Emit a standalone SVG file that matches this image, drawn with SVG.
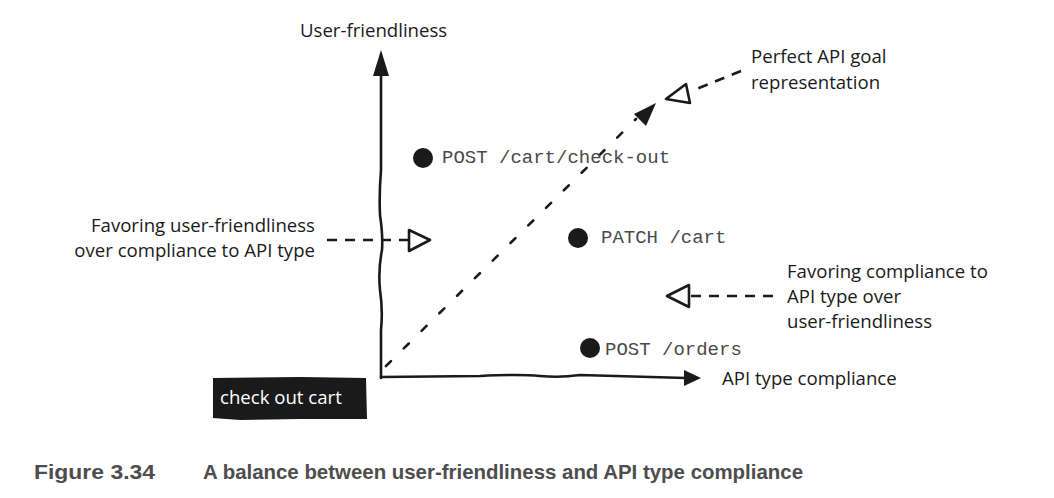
<svg xmlns="http://www.w3.org/2000/svg" width="1054" height="498" viewBox="0 0 1054 498">
<style>
.hand{font-family:"Open Sans","DejaVu Sans",sans-serif;font-size:18.6px;fill:#1a1a1a}
.mono{font-family:"Liberation Mono","DejaVu Sans Mono",monospace;font-size:19px;fill:#4a4a4a}
.cap{font-family:"Liberation Sans",Arial,sans-serif;font-size:21px;font-weight:bold;fill:#4d4d4d}
.ln{fill:none;stroke:#1a1a1a;stroke-width:2.6;stroke-linecap:round;stroke-linejoin:round}
.dash{fill:none;stroke:#1a1a1a;stroke-width:2.6;stroke-dasharray:10 8}
.dot{fill:none;stroke:#1a1a1a;stroke-width:2.6;stroke-dasharray:7 18;stroke-linecap:round}
.hollow{fill:#fff;stroke:#1a1a1a;stroke-width:2.6;stroke-linejoin:round}
.solid{fill:#1a1a1a}
</style>
<rect width="1054" height="498" fill="#fff"/>
<g id="connectors">
  <!-- Y axis -->
  <path class="ln" d="M381,378 L381,330 Q383,310 380,290 Q378,270 382,250 Q383,235 380,215 Q379,195 381,170 L381,72"/>
  <polygon class="solid" points="381,50 373,76 389,76"/>
  <!-- X axis -->
  <path class="ln" d="M381,377 L480,376 Q520,374 540,376 Q560,378 580,375 L686,378"/>
  <polygon class="solid" points="701,378 684,370 684,386"/>
  <!-- diagonal -->
  <path class="dot" d="M386,366 L636,119"/>
  <polygon class="solid" points="656,103 634,114 646,126"/>
  <!-- perfect goal pointer -->
  <path class="dash" d="M741,71 L694,90"/>
  <polygon class="hollow" points="666,99 686,84 690,103"/>
  <!-- left pointer -->
  <path class="dash" d="M327,240 L408,240"/>
  <polygon class="hollow" points="430,240 409,230 409,251"/>
  <!-- right pointer -->
  <path class="dash" d="M773,296 L690,296"/>
  <polygon class="hollow" points="667,296 689,285 689,307"/>
</g>
<g id="axis-y-label"><text class="hand" x="300" y="37">User-friendliness</text></g>
<g id="axis-x-label"><text class="hand" x="722" y="385">API type compliance</text></g>
<g id="perfect-goal">
  <text class="hand" x="751" y="63">Perfect API goal</text>
  <text class="hand" x="751" y="89">representation</text>
</g>
<g id="favor-user">
  <text class="hand" x="315" y="232" text-anchor="end">Favoring user-friendliness</text>
  <text class="hand" x="315" y="257" text-anchor="end">over compliance to API type</text>
</g>
<g id="favor-compliance">
  <text class="hand" x="787" y="278">Favoring compliance to</text>
  <text class="hand" x="787" y="303">API type over</text>
  <text class="hand" x="787" y="328">user-friendliness</text>
</g>
<g id="post-checkout">
  <circle class="solid" cx="423" cy="158" r="10"/>
  <text class="mono" x="442" y="163">POST /cart/check-out</text>
</g>
<g id="patch-cart">
  <circle class="solid" cx="578" cy="238" r="10"/>
  <text class="mono" x="601" y="243">PATCH /cart</text>
</g>
<g id="post-orders">
  <circle class="solid" cx="590" cy="348" r="10"/>
  <text class="mono" x="605" y="355">POST /orders</text>
</g>
<g id="check-out-cart">
  <path class="solid" d="M213,378 L300,377 L366,378 L367,419 L300,419 L240,420 L213,418 Z"/>
  <text class="hand" x="220" y="404" style="fill:#fff">check out cart</text>
</g>
<g id="caption">
  <text class="cap" x="34" y="479" textLength="121" lengthAdjust="spacingAndGlyphs">Figure 3.34</text>
  <text class="cap" x="203" y="479" textLength="600" lengthAdjust="spacingAndGlyphs">A balance between user-friendliness and API type compliance</text>
</g>
</svg>
